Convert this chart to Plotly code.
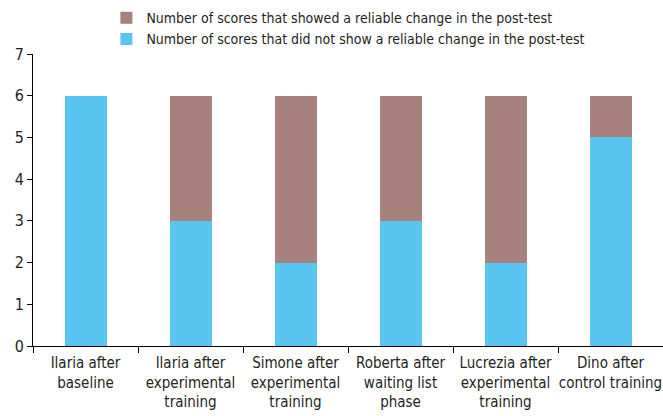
import plotly.graph_objects as go

categories = ["Ilaria after<br>baseline", "Ilaria after<br>experimental<br>training",
              "Simone after<br>experimental<br>training", "Roberta after<br>waiting list<br>phase",
              "Lucrezia after<br>experimental<br>training", "Dino after<br>control training"]
no_change = [6, 3, 2, 3, 2, 5]
reliable_change = [0, 3, 4, 3, 4, 1]

font_family = "DejaVu Sans Condensed, Liberation Sans Narrow, sans-serif"

fig = go.Figure()
fig.add_trace(go.Bar(x=categories, y=no_change, name="Number of scores that did not show a reliable change in the post-test",
                     marker=dict(color="#5BC5F2", line=dict(width=0)), width=0.4))
fig.add_trace(go.Bar(x=categories, y=reliable_change, name="Number of scores that showed a reliable change in the post-test",
                     marker=dict(color="#A6817D", line=dict(width=0)), width=0.4))

fig.update_layout(
    barmode="stack",
    width=663, height=416,
    margin=dict(l=33, r=0, t=54, b=70, autoexpand=False),
    plot_bgcolor="white", paper_bgcolor="white",
    font=dict(family=font_family, size=14, color="#231F20"),
    legend=dict(x=0.1165, y=0.995, yref="container", xanchor="left", yanchor="top",
                traceorder="reversed", font=dict(size=14), bgcolor="rgba(0,0,0,0)",
                tracegroupgap=0, itemwidth=30),
    showlegend=True,
)
fig.update_xaxes(showline=True, linecolor="black", linewidth=1, ticks="outside", tickson="boundaries",
                 ticklen=6, tickcolor="black", showgrid=False, tickangle=0,
                 tickfont=dict(size=15), ticklabelstandoff=3)
fig.update_yaxes(range=[0, 7], dtick=1, showline=True, linecolor="black", linewidth=1, ticks="outside",
                 ticklen=5, tickcolor="black", showgrid=False, zeroline=False,
                 tickfont=dict(size=16))

fig.write_html("out.html", config={"displayModeBar": False},
               post_script="document.body.style.margin='0';document.body.style.padding='0';")
